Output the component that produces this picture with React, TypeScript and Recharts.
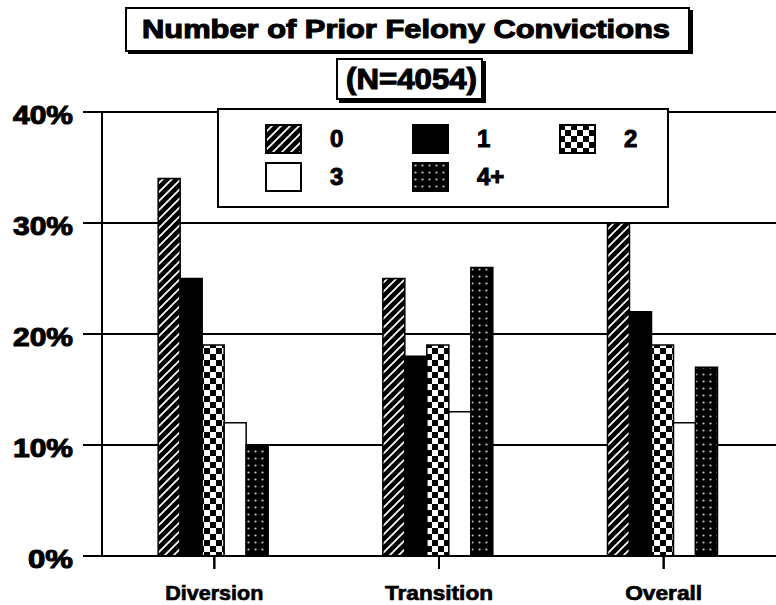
import type { ReactElement } from "react";
import { Bar, BarChart, CartesianGrid, Legend, XAxis, YAxis } from "recharts";

const CATEGORIES = ["Diversion", "Transition", "Overall"];
const ZERO = [34, 25, 30];
const ONE = [25, 18, 22];
const TWO = [19, 19, 19];
const THREE = [12, 13, 12];
const FOUR_PLUS = [10, 26, 17];

const Y_TICKS = [0, 10, 20, 30, 40];
const TITLE = "Number of Prior Felony Convictions";
const SUBTITLE = "(N=4054)";

const SERIES = [
  { key: "zero", name: "0", values: ZERO, fill: "url(#patStripe)" },
  { key: "one", name: "1", values: ONE, fill: "#000" },
  { key: "two", name: "2", values: TWO, fill: "url(#patChecker)" },
  { key: "three", name: "3", values: THREE, fill: "#fff" },
  { key: "fourPlus", name: "4+", values: FOUR_PLUS, fill: "url(#patDots)" },
];

const data = CATEGORIES.map((category, i) => {
  const row: Record<string, string | number> = { category };
  SERIES.forEach((s) => {
    row[s.key] = s.values[i];
  });
  return row;
});

const FONT = "'Liberation Sans', Arial, sans-serif";

const CHART_W = 776;
const CHART_H = 605;
const X_AXIS_H = 49;
const AXIS_Y = CHART_H - X_AXIS_H;
const X_TICK_SIZE = 13;

// x-label widths squeezed to look like the original heavy condensed face
const X_LABEL_WIDTH: Record<string, number> = {
  Diversion: 98,
  Transition: 108,
  Overall: 77,
};

function Patterns(): ReactElement {
  return (
    <svg width={0} height={0} style={{ position: "absolute" }}>
      <defs>
        <pattern id="patStripe" width={9} height={9} patternUnits="userSpaceOnUse">
          <rect width={9} height={9} fill="#000" />
          <path d="M0,9 L9,0 M-2,2 L2,-2 M7,11 L11,7" stroke="#fff" strokeWidth={1.7} />
        </pattern>
        <pattern id="patChecker" width={12} height={12} patternUnits="userSpaceOnUse">
          <rect width={12} height={12} fill="#fff" />
          <rect width={6} height={6} fill="#000" />
          <rect x={6} y={6} width={6} height={6} fill="#000" />
        </pattern>
        <pattern id="patDots" width={7} height={7} patternUnits="userSpaceOnUse">
          <rect width={7} height={7} fill="#000" />
          <circle cx={3.5} cy={3.5} r={1.1} fill="#c8c8c8" />
        </pattern>
      </defs>
    </svg>
  );
}

function YTick(props: any): ReactElement {
  const { x, y, payload } = props;
  const label = `${payload.value}%`;
  return (
    <text
      x={x}
      y={y + 12}
      textAnchor="end"
      fontFamily={FONT}
      fontWeight="bold"
      fontSize={25}
      stroke="#000"
      strokeWidth={1}
      textLength={label.length === 2 ? 45 : 60}
      lengthAdjust="spacingAndGlyphs"
    >
      {label}
    </text>
  );
}

function XTick(props: any): ReactElement {
  const { x, y, payload } = props;
  const label = String(payload.value);
  return (
    <g>
      <line x1={x} x2={x} y1={AXIS_Y} y2={AXIS_Y + X_TICK_SIZE} stroke="#000" strokeWidth={2} />
      <text
        x={x}
        y={y + 29}
        textAnchor="middle"
        fontFamily={FONT}
        fontWeight="bold"
        fontSize={21}
        stroke="#000"
        strokeWidth={0.7}
        textLength={X_LABEL_WIDTH[label] ?? 90}
        lengthAdjust="spacingAndGlyphs"
      >
        {label}
      </text>
    </g>
  );
}

function LegendBox(): ReactElement {
  return (
    <div
      style={{
        display: "grid",
        gridTemplateColumns: "147px 147px 147px",
        rowGap: 8,
        paddingLeft: 46,
        paddingTop: 14,
        fontFamily: FONT,
      }}
    >
      {SERIES.map((s) => (
        <div key={s.key} style={{ display: "flex", alignItems: "center", height: 30 }}>
          <svg width={37} height={30}>
            <rect x={1} y={1} width={35} height={28} fill={s.fill} stroke="#000" strokeWidth={2} />
          </svg>
          <span
            style={{
              marginLeft: 28,
              fontSize: 24,
              fontWeight: "bold",
              WebkitTextStroke: "1px #000",
              color: "#000",
            }}
          >
            {s.name}
          </span>
        </div>
      ))}
    </div>
  );
}

function Titles(): ReactElement {
  return (
    <svg
      width={CHART_W}
      height={108}
      style={{ position: "absolute", left: 0, top: 0, pointerEvents: "none" }}
    >
      <rect x={128} y={10} width={565} height={44} fill="#000" />
      <rect x={126} y={8} width={563} height={43} fill="#fff" stroke="#000" strokeWidth={2} />
      <text
        x={142}
        y={38}
        fontFamily={FONT}
        fontWeight="bold"
        fontSize={26}
        stroke="#000"
        strokeWidth={1.1}
        textLength={528}
        lengthAdjust="spacingAndGlyphs"
      >
        {TITLE}
      </text>
      <rect x={339} y={61} width={147} height={42} fill="#000" />
      <rect x={337} y={59} width={145} height={40} fill="#fff" stroke="#000" strokeWidth={2} />
      <text
        x={346}
        y={89}
        fontFamily={FONT}
        fontWeight="bold"
        fontSize={29}
        stroke="#000"
        strokeWidth={1.1}
        textLength={131}
        lengthAdjust="spacingAndGlyphs"
      >
        {SUBTITLE}
      </text>
    </svg>
  );
}

export default function App(): ReactElement {
  return (
    <div
      style={{
        position: "absolute",
        left: 0,
        top: 0,
        width: CHART_W,
        height: CHART_H,
        background: "#fff",
        overflow: "hidden",
      }}
    >
      <Patterns />
      <BarChart
        width={CHART_W}
        height={CHART_H}
        data={data}
        margin={{ top: 112, right: 0, bottom: 0, left: 0 }}
        barCategoryGap="25%"
        barGap={0}
      >
        <CartesianGrid vertical={false} stroke="#000" strokeWidth={2} />
        <XAxis
          dataKey="category"
          height={X_AXIS_H}
          stroke="#000"
          tickSize={X_TICK_SIZE}
          axisLine={{ stroke: "#000", strokeWidth: 2 }}
          tickLine={{ stroke: "#000", strokeWidth: 2 }}
          tick={<XTick />}
          interval={0}
        />
        <YAxis
          width={102}
          domain={[0, 40]}
          ticks={Y_TICKS}
          interval={0}
          stroke="#000"
          tickSize={19}
          tickMargin={10}
          axisLine={{ stroke: "#000", strokeWidth: 2 }}
          tickLine={{ stroke: "#000", strokeWidth: 2 }}
          tick={<YTick />}
        />
        <Legend
          layout="horizontal"
          verticalAlign="middle"
          align="center"
          content={<LegendBox />}
          wrapperStyle={{
            left: 217,
            top: 108,
            width: 452,
            height: 100,
            boxSizing: "border-box",
            border: "2px solid #000",
            background: "#fff",
          }}
        />
        {SERIES.map((s) => (
          <Bar
            key={s.key}
            dataKey={s.key}
            name={s.name}
            fill={s.fill}
            stroke="#000"
            strokeWidth={1.5}
            isAnimationActive={false}
          />
        ))}
      </BarChart>
      <Titles />
    </div>
  );
}
